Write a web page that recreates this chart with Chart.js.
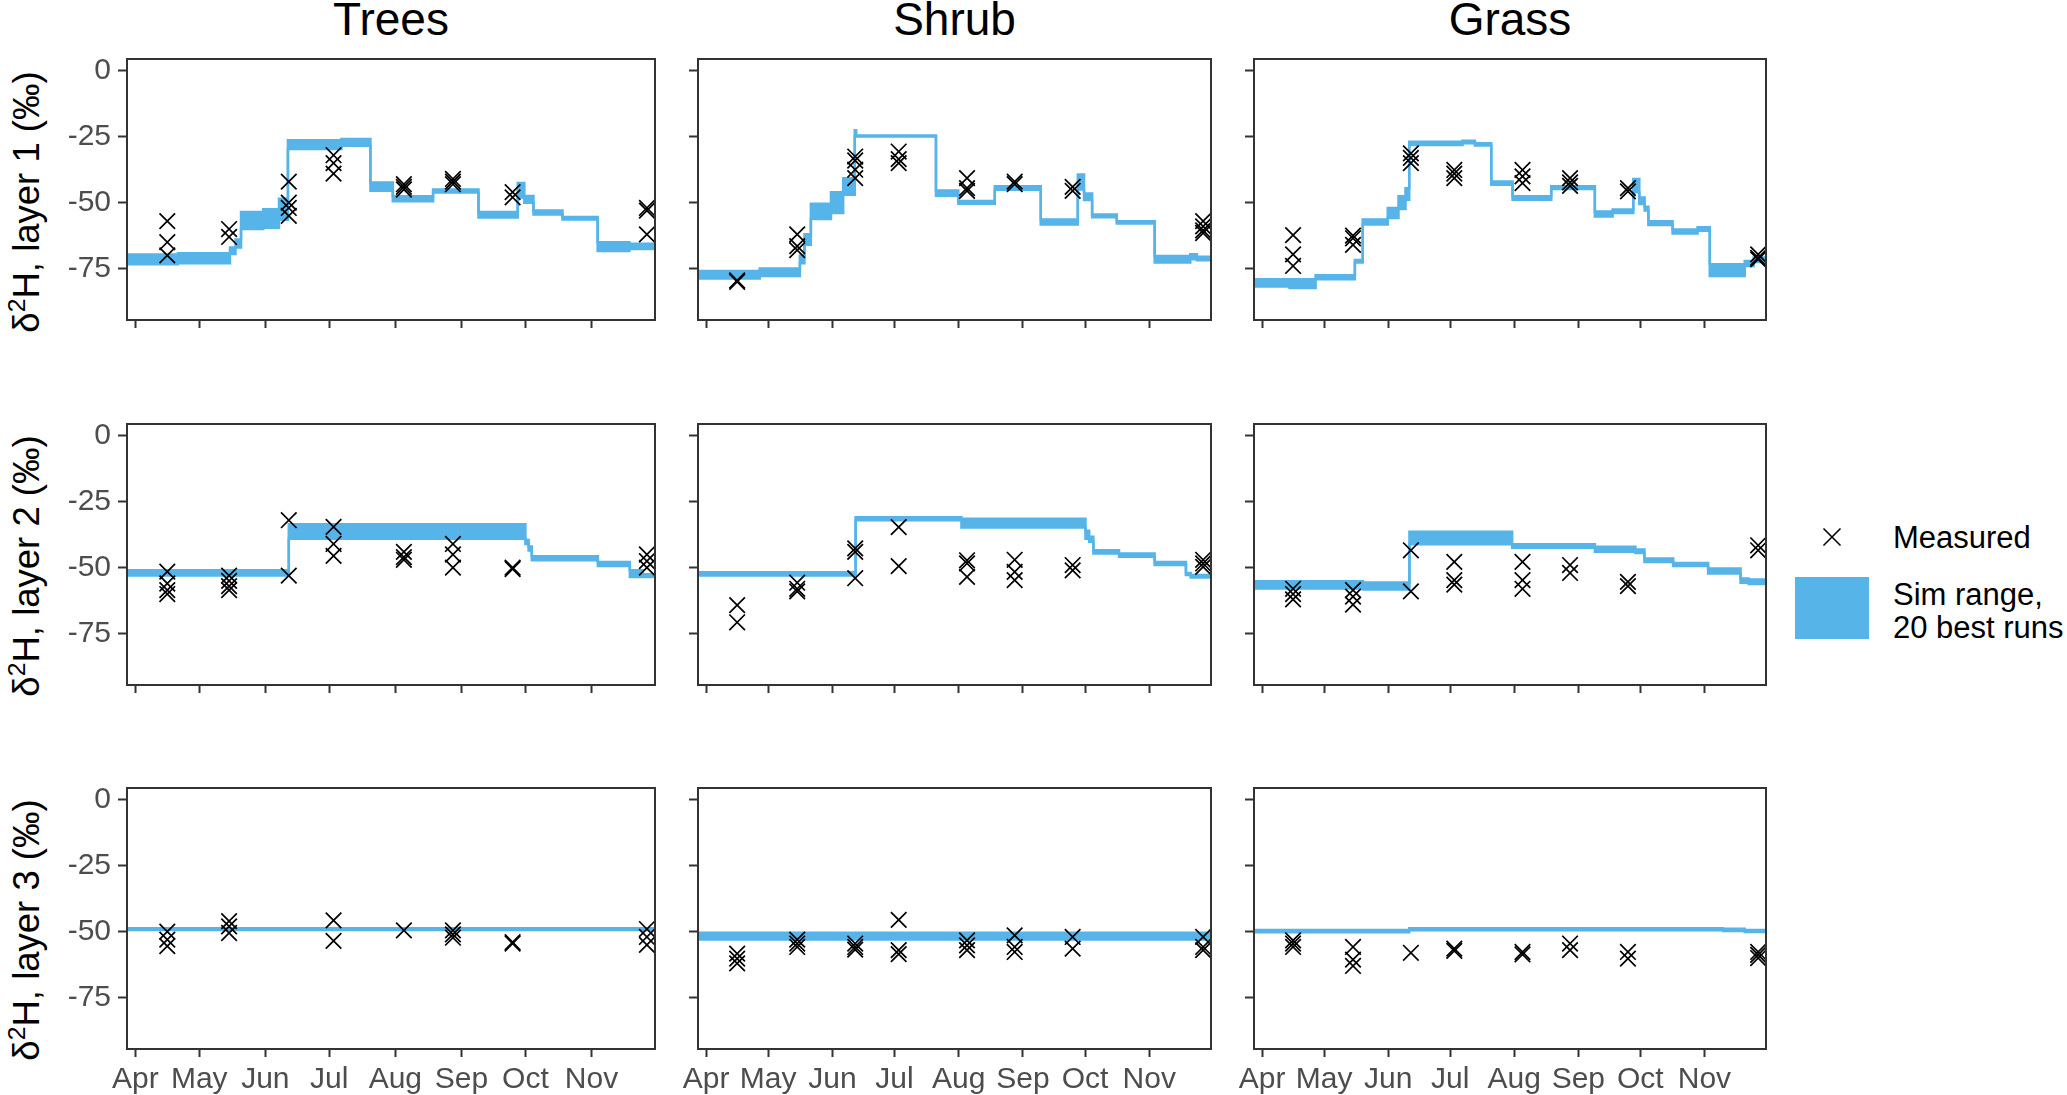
<!DOCTYPE html>
<html>
<head>
<meta charset="utf-8">
<script src="https://cdn.jsdelivr.net/npm/chart.js@4.4.1/dist/chart.umd.min.js"></script>
<style>
  body { margin: 0; width: 2067px; height: 1095px; background: #fff; position: relative; overflow: hidden;
         font-family: 'Liberation Sans', Arial, sans-serif; }
  canvas { position: absolute; }
  .title { position: absolute; top: -4px; font-size: 46px; line-height: 46px; text-align: center; color: #000; }
  .ytitle { position: absolute; font-size: 36.5px; line-height: 36.5px; white-space: nowrap; color: #000;
            transform: translate(-50%, -50%) rotate(-90deg); }
  .ytitle sup { font-size: 0.68em; line-height: 0; vertical-align: 0.55em; }
  .legtext { position: absolute; left: 1893px; font-size: 31px; white-space: nowrap; color: #000; }
</style>
</head>
<body>
<script>
// axis ticks (days since 1 April)
const months = ['Apr', 'May', 'Jun', 'Jul', 'Aug', 'Sep', 'Oct', 'Nov'];
const monthDays = [0, 30, 61, 91, 122, 153, 183, 214];
const yTicks = [0, -25, -50, -75];
const xMin = -3.9, xMax = 243.8;
const yMin = -94.5, yMax = 4.5;

const vegTypes = ['Trees', 'Shrub', 'Grass'];
const layerNames = ['layer 1', 'layer 2', 'layer 3'];

// sampling dates of the measured values
const sampleDays = [15, 44, 72, 93, 126, 149, 177, 240];

// measured d2H, one list per sampling date
const treesL1 = [[-57, -65, -70], [-60, -63], [-42, -50, -52, -55], [-32, -35, -39], [-43, -44, -45], [-41, -42, -43], [-46, -48], [-52, -53, -62]];
const shrubL1 = [[-79.5, -80], [-62, -66.5, -68], [-32.5, -34, -37.5, -40.7], [-30.6, -33.5, -35], [-40.7, -44.5, -45.5], [-42, -43], [-44, -45.5], [-57, -59, -60.5, -61.5]];
const grassL1 = [[-62.3, -69.6, -74], [-62.5, -63.5, -66], [-31.3, -33, -35], [-37.6, -39, -40.7], [-37.6, -40, -42.6], [-40.7, -42.3, -43.6], [-44.5, -45.7], [-69.6, -70.9, -71.5]];
const treesL2 = [[-51.5, -56, -58.5, -60], [-53, -55, -57, -58.5], [-32, -53], [-34.5, -41, -45.5], [-44, -46, -47], [-41, -45, -50], [-50, -50.5], [-45, -47.5, -50]];
const shrubL2 = [[-64.2, -70.7], [-55.7, -58, -59], [-42.7, -44, -54], [-34.6, -49.4], [-47.2, -48.4, -53.5], [-47, -51.6, -54.7], [-49, -51], [-47, -48.4, -49.7]];
const grassL2 = [[-58, -60, -62], [-58.5, -61, -64], [-43.4, -59], [-47.8, -54.7, -56.4], [-47.8, -54.7, -58], [-49, -52], [-55.4, -57], [-41.5, -43.4]];
const treesL3 = [[-50, -53, -55.5], [-46, -48, -50.5], [], [-45.7, -53.5], [-49.5], [-49.5, -51, -52.3], [-54, -54.5], [-49, -52, -55]];
const shrubL3 = [[-58.3, -60.2, -62], [-53, -54.5, -55.8], [-54.5, -55.8, -56.8], [-45.5, -57, -58.5], [-53.3, -55.2, -57], [-51.4, -55.8, -57.7], [-52, -56.4], [-52, -55.8, -57]];
const grassL3 = [[-53.3, -54.5, -55.8], [-55.8, -60.6, -63], [-58], [-56.4, -57.3], [-57.7, -58.6], [-54.5, -57], [-57.7, -60.2], [-57.7, -58.8, -60]];

// simulated range of the 20 best runs: step start day, lower and upper bound
const treesL1Day = [-3.9, 20, 44.4, 47, 49.6, 60, 67.4, 71.6, 96.7, 110.3, 120.8, 139.7, 161, 179.4, 182.5, 186.8, 200.4, 216.9, 231.8, 243.8];
const treesL1Lo = [-73.4, -73.0, -69.5, -67, -60, -59.5, -56.5, -29.6, -28.4, -45.5, -49.5, -46.1, -55.6, -48, -50, -54.5, -56.4, -68.3, -67.6, -67.6];
const treesL1Hi = [-69.7, -69.2, -67, -64, -53.5, -52.5, -48.5, -26.3, -25.8, -42.3, -47.6, -45.0, -53.5, -42.5, -47.5, -53, -55.4, -65, -65.6, -65.6];

const shrubL1Day = [-3.9, 25.9, 45.3, 47.5, 50.6, 60.3, 66.2, 71.8, 72.5, 111, 121.8, 139.4, 161.6, 179.5, 182.5, 186.4, 198.3, 216.6, 233.8, 237, 243.8];
const shrubL1Lo = [-78.8, -77.8, -73, -66, -56.2, -53.9, -47, -24.7, -24.9, -47.4, -50.4, -45.1, -58.3, -45, -49, -55.5, -57.9, -72.7, -71.5, -71.8, -71.8];
const shrubL1Hi = [-75.9, -75, -70, -62, -50.4, -46, -40.7, -22.5, -24.5, -45.4, -49.4, -43.8, -56.4, -39.3, -46.5, -54.5, -57, -70.2, -69.6, -70.5, -70.5];

const grassL1Day = [-3.9, 13.3, 25.9, 44.9, 48.7, 60.8, 66, 69.4, 71.2, 97, 103, 110.9, 121.2, 139.9, 161, 169.6, 179.6, 182.5, 185.1, 186.9, 198.6, 210.7, 216.6, 233.5, 237.8, 243.8];
const grassL1Lo = [-81.8, -82.4, -79, -72.7, -58.3, -55.8, -52.4, -48.9, -28.1, -27.5, -28.3, -43.2, -48.9, -44.8, -55.2, -53.9, -46, -50.5, -53, -58.5, -61.7, -60.6, -77.8, -74, -72.5, -72.5];
const grassL1Hi = [-79, -79, -77.5, -71.7, -56.4, -52, -47.6, -44.5, -26.9, -26.5, -27.5, -42, -47.6, -43.8, -53.3, -52.6, -41, -48, -51.5, -57, -60.2, -59.3, -73.4, -72.1, -70.8, -70.8];

const treesL2Day = [-3.9, 72, 183, 184.5, 186, 217, 232, 238, 243.8];
const treesL2Lo = [-53, -39, -41, -43.5, -47.2, -49.4, -53.5, -53.5, -53.5];
const treesL2Hi = [-51, -33.5, -39.5, -42, -45.7, -47.8, -51, -52.5, -52.5];

const shrubL2Day = [-3.9, 72.2, 123.3, 183.2, 185, 187, 199.4, 216.6, 231.7, 234, 243.8];
const shrubL2Lo = [-53, -32, -34.8, -39, -40.2, -44.6, -45.9, -49, -52.8, -53.7, -53.7];
const shrubL2Hi = [-51.7, -30.9, -31.4, -36, -38.3, -43.4, -44.6, -47.8, -52, -52.8, -52.8];

const grassL2Day = [-3.9, 48.8, 71.3, 121, 161, 180.6, 185, 198.9, 215.8, 231.5, 235.4, 243.8];
const grassL2Lo = [-57.9, -58.3, -41.1, -42.4, -44, -44.4, -47.8, -49.4, -52.2, -55.7, -56.2, -56.2];
const grassL2Hi = [-55.1, -55.6, -36.4, -41.1, -42.1, -43.1, -46.5, -48.2, -50.3, -54.1, -54.5, -54.5];

const treesL3Day = [-3.9, 243.8];
const treesL3Lo = [-49.4, -49.4];
const treesL3Hi = [-48.7, -48.7];

const shrubL3Day = [-3.9, 243.8];
const shrubL3Lo = [-53, -53];
const shrubL3Hi = [-50.4, -50.4];

const grassL3Day = [-3.9, 71.2, 223, 233.5, 243.8];
const grassL3Lo = [-50.2, -49.5, -49.7, -50.1, -50.1];
const grassL3Hi = [-49.4, -48.7, -48.9, -49.4, -49.4];

const panels = [
  [[treesL1, treesL1Day, treesL1Lo, treesL1Hi], [shrubL1, shrubL1Day, shrubL1Lo, shrubL1Hi], [grassL1, grassL1Day, grassL1Lo, grassL1Hi]],
  [[treesL2, treesL2Day, treesL2Lo, treesL2Hi], [shrubL2, shrubL2Day, shrubL2Lo, shrubL2Hi], [grassL2, grassL2Day, grassL2Lo, grassL2Hi]],
  [[treesL3, treesL3Day, treesL3Lo, treesL3Hi], [shrubL3, shrubL3Day, shrubL3Lo, shrubL3Hi], [grassL3, grassL3Day, grassL3Lo, grassL3Hi]],
];

// page layout (px)
const colLeft = [127, 698, 1254];
const colWidth = [528, 513, 512];
const rowTop = [59.3, 423.7, 787.7];
const panelH = 261;
const yAxisW = 90, xAxisH = 62, padTop = 12, padRight = 14;

const simBlue = '#56B4E9';
const frame = '#333333';
const tickText = '#4D4D4D';

Chart.defaults.font.family = "'Liberation Sans', Arial, sans-serif";

const panelBorder = {
  id: 'panelBorder',
  afterDraw(chart) {
    const { ctx, chartArea: a } = chart;
    ctx.save();
    ctx.strokeStyle = frame;
    ctx.lineWidth = 2;
    ctx.strokeRect(a.left, a.top, a.right - a.left, a.bottom - a.top);
    ctx.restore();
  }
};

function addDiv(cls, html, style) {
  const d = document.createElement('div');
  d.className = cls;
  d.innerHTML = html;
  Object.assign(d.style, style);
  document.body.appendChild(d);
  return d;
}

vegTypes.forEach((name, c) => {
  addDiv('title', name, { left: colLeft[c] + 'px', width: colWidth[c] + 'px' });
});
layerNames.forEach((name, r) => {
  addDiv('ytitle', '&delta;<sup>2</sup>H, ' + name + ' (&permil;)',
    { left: '27px', top: (rowTop[r] + panelH / 2 + 12) + 'px' });
});

function makePanel(r, c) {
  const [measured, days, lo, hi] = panels[r][c];
  const canvas = document.createElement('canvas');
  const w = colWidth[c] + yAxisW + padRight;
  const h = panelH + padTop + xAxisH;
  canvas.width = w;
  canvas.height = h;
  Object.assign(canvas.style, {
    left: (colLeft[c] - yAxisW) + 'px', top: (rowTop[r] - padTop) + 'px',
    width: w + 'px', height: h + 'px'
  });
  document.body.appendChild(canvas);

  const points = [];
  sampleDays.forEach((d, i) => measured[i].forEach(v => points.push({ x: d, y: v })));

  const gridOpts = (len) => ({
    display: true, drawOnChartArea: false, drawTicks: true,
    tickLength: len, tickWidth: 2, tickColor: frame
  });

  new Chart(canvas, {
    type: 'line',
    data: {
      datasets: [
        {
          data: points, showLine: false, pointStyle: 'crossRot', pointRadius: 11,
          pointBorderWidth: 1.7, pointBorderColor: '#000', pointBackgroundColor: 'transparent',
          clip: false
        },
        {
          data: days.map((d, i) => ({ x: d, y: hi[i] })), stepped: true, borderColor: simBlue,
          borderWidth: 2.5, backgroundColor: simBlue, fill: '+1', pointRadius: 0
        },
        {
          data: days.map((d, i) => ({ x: d, y: lo[i] })), stepped: true, borderColor: simBlue,
          borderWidth: 2.5, fill: false, pointRadius: 0
        }
      ]
    },
    options: {
      responsive: false, animation: false, events: [],
      layout: { autoPadding: false, padding: { left: 0, right: padRight, top: padTop, bottom: 0 } },
      plugins: { legend: { display: false }, tooltip: { enabled: false } },
      scales: {
        x: {
          type: 'linear', min: xMin, max: xMax,
          afterBuildTicks: ax => { ax.ticks = monthDays.map(v => ({ value: v })); },
          afterFit: ax => { ax.height = xAxisH; },
          grid: gridOpts(8), border: { display: false },
          ticks: {
            display: r === 2, autoSkip: false, maxRotation: 0, padding: 5,
            font: { size: 30 }, color: tickText,
            callback: v => months[monthDays.indexOf(v)]
          }
        },
        y: {
          type: 'linear', min: yMin, max: yMax,
          afterBuildTicks: ax => { ax.ticks = yTicks.map(v => ({ value: v })); },
          afterFit: ax => { ax.width = yAxisW; },
          grid: gridOpts(9), border: { display: false },
          ticks: {
            display: c === 0, padding: 7, font: { size: 30, lineHeight: 0.01 }, color: tickText,
            callback: v => String(v)
          }
        }
      }
    },
    plugins: [panelBorder]
  });
}

for (let r = 0; r < 3; r++) for (let c = 0; c < 3; c++) makePanel(r, c);

// legend
const svgNS = 'http://www.w3.org/2000/svg';
const key = document.createElementNS(svgNS, 'svg');
key.setAttribute('width', '24');
key.setAttribute('height', '24');
Object.assign(key.style, { position: 'absolute', left: '1820px', top: '525px' });
key.innerHTML = '<path d="M3.5 3.5 L20.5 20.5 M20.5 3.5 L3.5 20.5" stroke="#000" stroke-width="1.6"/>';
document.body.appendChild(key);
addDiv('legtext', 'Measured', { top: '522px', lineHeight: '31px' });
addDiv('', '', { position: 'absolute', left: '1795px', top: '577px', width: '74px', height: '62px', background: simBlue });
addDiv('legtext', 'Sim range,<br>20 best runs', { top: '578px', lineHeight: '33px' });
</script>
</body>
</html>
